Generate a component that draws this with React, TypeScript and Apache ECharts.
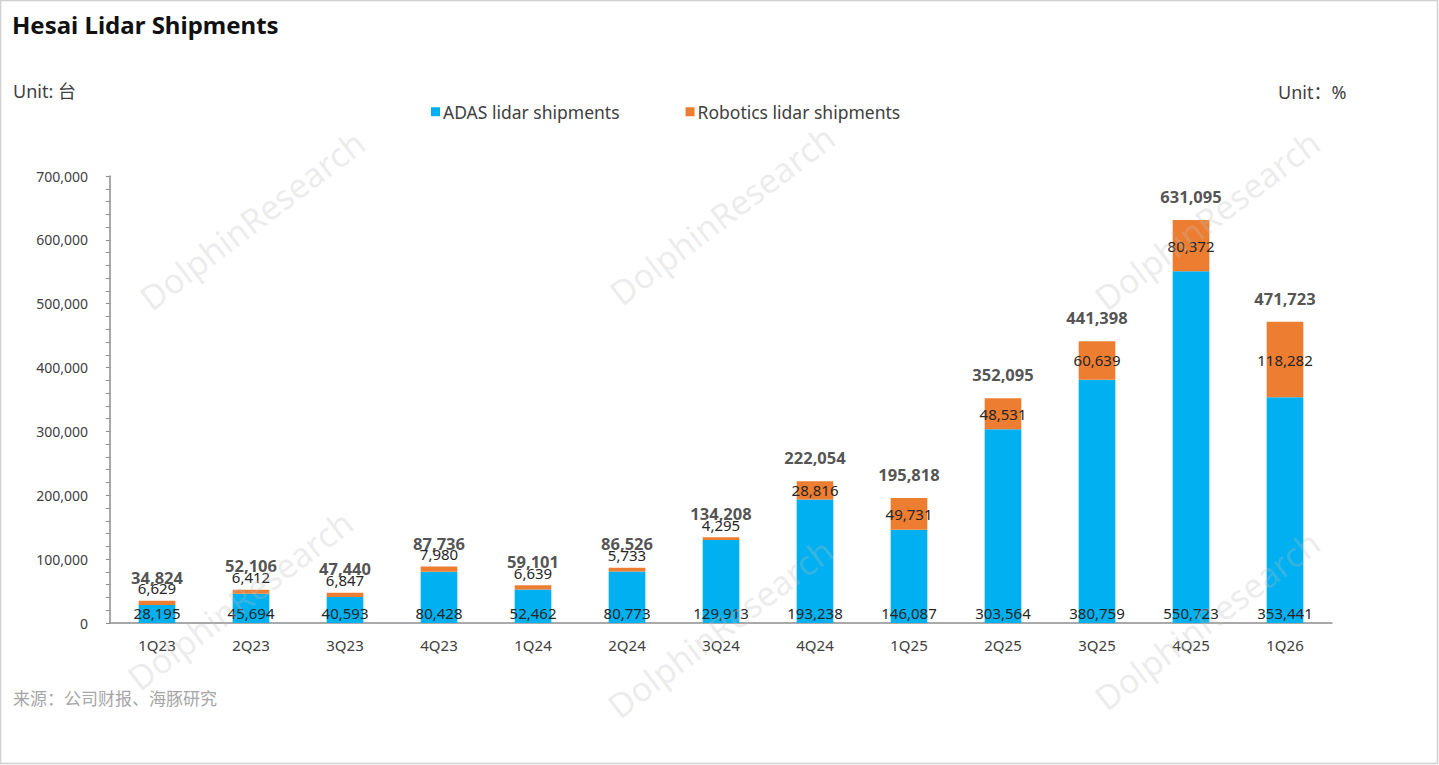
import { useEffect, useRef } from "react";
import * as echarts from "echarts";

const quarters = [
  "1Q23", "2Q23", "3Q23", "4Q23",
  "1Q24", "2Q24", "3Q24", "4Q24",
  "1Q25", "2Q25", "3Q25", "4Q25",
  "1Q26",
];

const adasShipments = [
  28195, 45694, 40593, 80428,
  52462, 80773, 129913, 193238,
  146087, 303564, 380759, 550723,
  353441,
];

const roboticsShipments = [
  6629, 6412, 6847, 7980,
  6639, 5733, 4295, 28816,
  49731, 48531, 60639, 80372,
  118282,
];

// 合计是原图标注的数字（有的和两项之和略有出入，照原图）
const totalShipments = [
  34824, 52106, 47440, 87736,
  59101, 86526, 134208, 222054,
  195818, 352095, 441398, 631095,
  471723,
];

const FONT = '"Noto Sans", "Noto Sans CJK SC", sans-serif';
const fmt = (v: number) => v.toLocaleString("en-US");

// 水印位置
const watermarks = [
  [252, 220], [722, 215], [1207, 220],
  [240, 600], [720, 628], [1207, 620],
];

export default function App() {
  const ref = useRef<HTMLDivElement>(null);

  useEffect(() => {
    if (!ref.current) return;
    const chart = echarts.init(ref.current, undefined, { renderer: "svg" });

    chart.setOption({
      animation: false,
      backgroundColor: "#ffffff",
      textStyle: { fontFamily: FONT },
      grid: { left: 110, right: 107, top: 176, bottom: 142 },
      legend: {
        left: 426,
        top: 98,
        itemWidth: 9,
        itemHeight: 9,
        itemGap: 66,
        icon: "rect",
        data: ["ADAS lidar shipments", "Robotics lidar shipments"],
        textStyle: { color: "#404040", fontSize: 17.5, fontFamily: FONT, padding: [0, 0, 0, -2] },
      },
      xAxis: {
        type: "category",
        data: quarters,
        axisLine: { lineStyle: { color: "#8c8c8c", width: 1.5 } },
        axisTick: { show: false },
        axisLabel: { color: "#404040", fontSize: 15, margin: 14, fontFamily: FONT },
      },
      yAxis: {
        type: "value",
        min: 0,
        max: 700000,
        interval: 100000,
        axisLine: { show: true, lineStyle: { color: "#8c8c8c", width: 1.5 } },
        axisTick: { show: true, length: 4, lineStyle: { color: "#8c8c8c" } },
        minorTick: { show: true, splitNumber: 5, length: 4, lineStyle: { color: "#8c8c8c" } },
        splitLine: { show: false },
        axisLabel: {
          color: "#404040",
          fontSize: 14,
          margin: 22,
          fontFamily: FONT,
          formatter: (v: number) => fmt(v),
        },
      },
      series: [
        {
          name: "ADAS lidar shipments",
          type: "bar",
          stack: "total",
          barWidth: "39%",
          itemStyle: { color: "#00B0F0" },
          label: {
            show: true,
            position: "insideBottom",
            distance: 3,
            color: "#262626",
            fontSize: 15,
            fontFamily: FONT,
            formatter: (p: { value: number }) => fmt(p.value),
          },
          data: adasShipments,
        },
        {
          name: "Robotics lidar shipments",
          type: "bar",
          stack: "total",
          barWidth: "39%",
          itemStyle: { color: "#ED7D31" },
          label: {
            show: true,
            position: "inside",
            color: "#262626",
            fontSize: 15,
            fontFamily: FONT,
            formatter: (p: { value: number }) => fmt(p.value),
          },
          data: roboticsShipments.map((v) =>
            v < 20000
              ? { value: v, label: { position: "top", distance: 5 } }
              : v,
          ),
        },
        {
          name: "Total",
          type: "scatter",
          symbolSize: 1,
          itemStyle: { color: "rgba(0,0,0,0)" },
          label: {
            show: true,
            position: "top",
            distance: 15,
            color: "#262626",
            fontSize: 16.5,
            fontWeight: "bold",
            fontFamily: FONT,
            formatter: (p: { value: number }) => fmt(p.value),
          },
          z: 5,
          data: totalShipments,
        },
      ],
      graphic: [
        {
          type: "rect",
          shape: { x: 0.5, y: 0.5, width: 1437, height: 763 },
          style: { fill: "none", stroke: "#d0d0d0", lineWidth: 1.5 },
          silent: true,
        },
        {
          type: "text",
          left: 12,
          top: 12,
          style: {
            text: "Hesai Lidar Shipments",
            fill: "#111111",
            fontSize: 24,
            fontWeight: "bold",
            fontFamily: FONT,
          },
        },
        {
          type: "text",
          left: 13,
          top: 82,
          style: { text: "Unit: 台", fill: "#404040", fontSize: 18, fontFamily: FONT },
        },
        {
          type: "text",
          left: 1278,
          top: 83,
          style: { text: "Unit：%", fill: "#404040", fontSize: 18, fontFamily: FONT },
        },
        {
          type: "text",
          left: 13,
          top: 690,
          style: {
            text: "来源：公司财报、海豚研究",
            fill: "#a6a6a6",
            fontSize: 17,
            fontFamily: FONT,
          },
        },
        ...watermarks.map(([x, y]) => ({
          type: "text",
          x,
          y,
          rotation: 0.65,
          silent: true,
          z: 100,
          style: {
            text: "DolphinResearch",
            fill: "rgba(190,190,190,0.28)",
            fontSize: 34,
            fontFamily: FONT,
            align: "center",
            verticalAlign: "middle",
          },
        })),
      ],
    });

    return () => chart.dispose();
  }, []);

  return (
    <div
      ref={ref}
      style={{ position: "fixed", left: 0, top: 0, width: 1439, height: 765 }}
    />
  );
}
